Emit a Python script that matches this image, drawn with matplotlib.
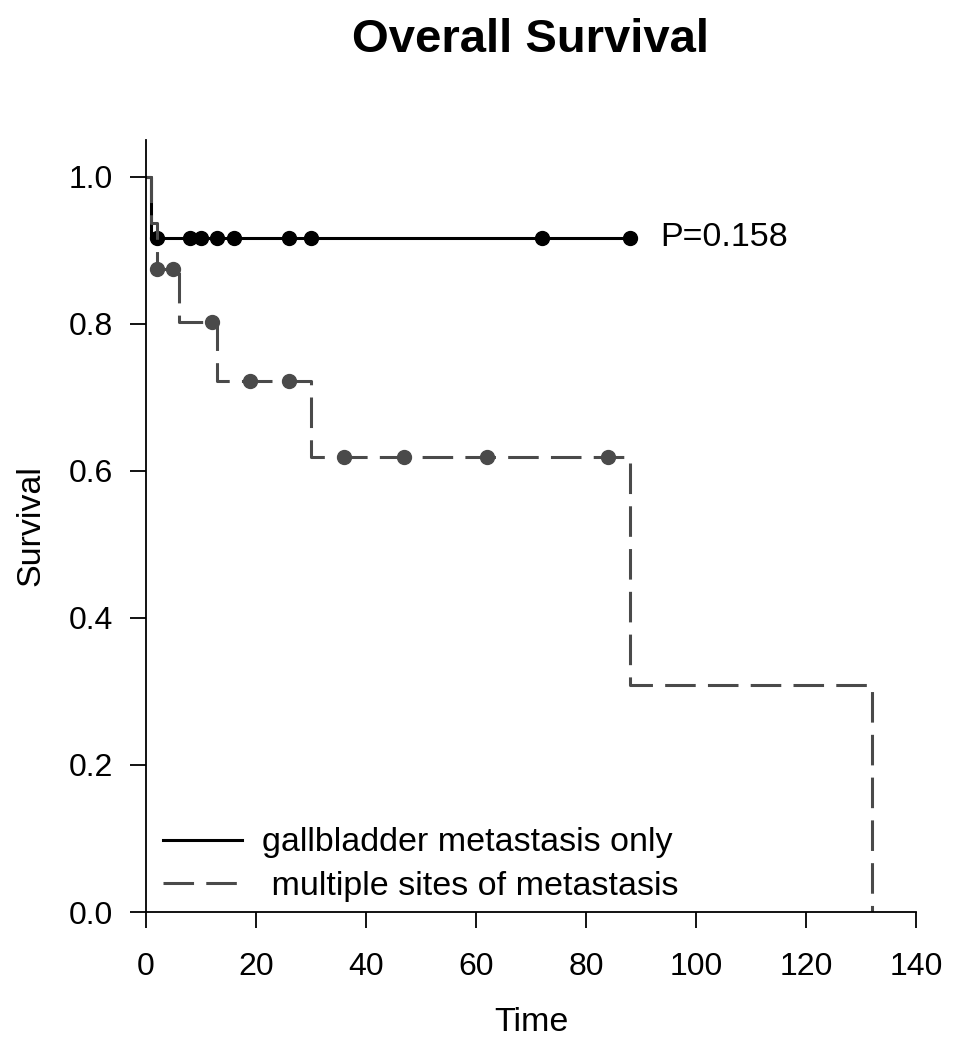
import numpy as np
import matplotlib
matplotlib.use("Agg")
import matplotlib.pyplot as plt

# step curves (Kaplan-Meier estimates)
gb_times = [0, 1, 88]
gb_surv = [1.0, 0.917, 0.917]
gb_censor = [2, 8, 10, 13, 16, 26, 30, 72, 88]

ms_times = [0, 1, 2, 6, 13, 30, 88, 132]
ms_surv = [1.0, 0.9375, 0.875, 0.802, 0.722, 0.619, 0.309, 0.0]
ms_censor = [2, 5, 12, 19, 26, 36, 47, 62, 84]

x_ticks = [0, 20, 40, 60, 80, 100, 120, 140]
y_ticks = [0.0, 0.2, 0.4, 0.6, 0.8, 1.0]
p_text = "P=0.158"
labels = ["gallbladder metastasis only", " multiple sites of metastasis"]


def surv_at(times, surv, t):
    idx = np.searchsorted(times, t, side="right") - 1
    return np.asarray(surv)[idx]


plt.rcParams["font.family"] = ["Liberation Sans", "DejaVu Sans"]

fig = plt.figure(figsize=(9.54, 10.5), dpi=100)
ax = fig.add_axes([146 / 954, (1050 - 912) / 1050, 770 / 954, 772 / 1050])

black = "#000000"
gray = "#4a4a4a"
lw = 2.2

(l1,) = ax.plot(gb_times, gb_surv, drawstyle="steps-post", color=black, lw=lw)
ax.plot(gb_censor, surv_at(gb_times, gb_surv, gb_censor), "o", color=black, ms=10)

(l2,) = ax.plot(ms_times, ms_surv, drawstyle="steps-post", color=gray, lw=lw,
                dashes=(10, 4))
ax.plot(ms_censor, surv_at(ms_times, ms_surv, ms_censor), "o", color=gray, ms=10)

ax.text(93.5, 0.917, p_text, fontsize=24.5, va="center", ha="left")

ax.set_xlim(0, 140)
ax.set_ylim(0, 1.05)
ax.set_xticks(x_ticks)
ax.set_yticks(y_ticks)
ax.set_yticklabels([f"{v:.1f}" for v in y_ticks])
ax.spines["top"].set_visible(False)
ax.spines["right"].set_visible(False)
for s in ("left", "bottom"):
    ax.spines[s].set_linewidth(1.3)
ax.spines["bottom"].set_bounds(0, 140)
ax.tick_params(axis="both", length=11.5, width=1.3, labelsize=23)
ax.tick_params(axis="x", pad=17)
ax.tick_params(axis="y", pad=12)

ax.set_xlabel("Time", fontsize=24.5, labelpad=18)
ax.set_ylabel("Survival", fontsize=24.5, labelpad=16)

ax.legend([l1, l2], labels, loc="lower left", bbox_to_anchor=(0.022, 0.0133),
          frameon=False, fontsize=24.5, handlelength=2.32, handletextpad=0.59,
          labelspacing=0.36, borderpad=0, borderaxespad=0)

fig.text(531 / 954, 1 - 40 / 1050, "Overall Survival", fontsize=34,
         fontweight="bold", ha="center", va="center")

fig.savefig("out.png", dpi=100)
